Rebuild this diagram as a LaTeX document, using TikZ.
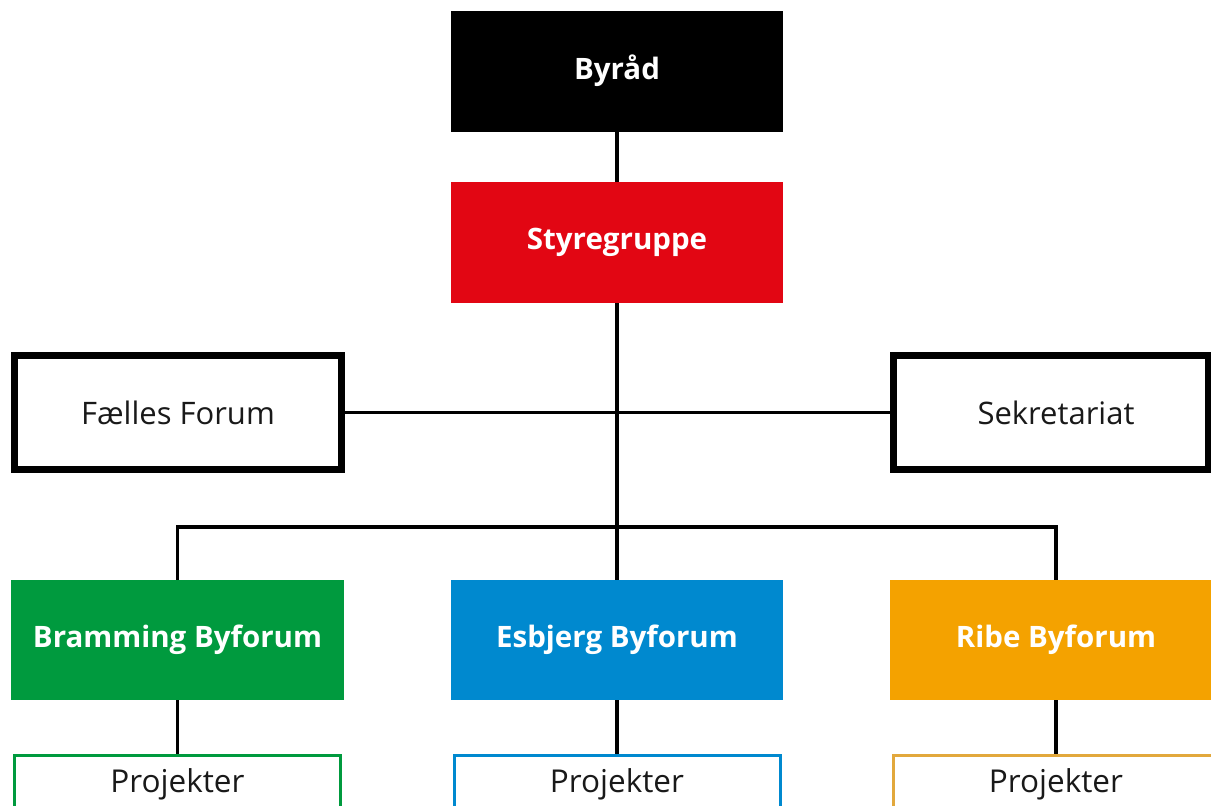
\documentclass[tikz,border=0pt]{standalone}
\usepackage{fontspec}
\setmainfont{Open Sans}
\definecolor{cred}{RGB}{226,6,19}
\definecolor{cgreen}{RGB}{0,154,62}
\definecolor{cblue}{RGB}{0,137,207}
\definecolor{corange}{RGB}{244,162,0}
\definecolor{corangeline}{RGB}{226,168,60}
\definecolor{ctext}{RGB}{25,25,25}
\tikzset{
  solidbox/.style={draw=none,inner sep=0pt,text=white,font=\fontsize{29.5}{33}\selectfont\bfseries,minimum width=332pt,minimum height=121pt},
  framebox/.style={draw=black,line width=7pt,fill=white,inner sep=0pt,text=ctext,font=\fontsize{31}{35}\selectfont},
  projbox/.style={draw=#1,line width=3pt,fill=white,inner sep=0pt,text=ctext,font=\fontsize{31.5}{35}\selectfont,minimum width=326pt,minimum height=80pt,text height=22pt,text depth=28pt},
  conn/.style={draw=black,line width=3.5pt}
}
\begin{document}
\begin{tikzpicture}[x=1pt,y=-1pt]
\useasboundingbox (0,0) rectangle (1211,806);
\fill[white] (0,0) rectangle (1211,806);
\clip (0,0) rectangle (1211,806);
% top
\node[solidbox,fill=black] (byr) at (617,71) {Byråd};
\node[solidbox,fill=cred] (sty) at (617,242.5) {Styregruppe};
% side boxes
\node[framebox,minimum width=327pt,minimum height=114pt] (ff) at (178,412.5) {Fælles Forum};
\node[framebox,minimum width=315pt,minimum height=114pt] (sek) at (1050.5,412.5) {\hspace*{11pt}Sekretariat};
% fora
\node[solidbox,fill=cgreen,minimum height=120pt,minimum width=333pt] (bf) at (177.5,640) {Bramming Byforum};
\node[solidbox,fill=cblue,minimum height=120pt] (ef) at (617,640) {Esbjerg Byforum};
\node[solidbox,fill=corange,minimum height=120pt] (rf) at (1056,640) {Ribe Byforum};
% projects
\node[projbox=cgreen] (bp) at (177.5,795) {Projekter};
\node[projbox=cblue] (ep) at (617,795) {Projekter};
\node[projbox=corangeline] (rp) at (1056,795) {Projekter};
% connectors
\coordinate (bus) at (617,527);
\draw[conn] (byr.south) -- (sty.north);
\draw[conn] (sty.south) -- (bus);
\draw[conn] (ff.east) -- (sek.west);
\draw[conn] (bf.north) |- (bus) -| (rf.north);
\draw[conn] (bus) -- (ef.north);
\draw[conn] (bf.south) -- (bp.north);
\draw[conn] (ef.south) -- (ep.north);
\draw[conn] (rf.south) -- (rp.north);
\end{tikzpicture}
\end{document}
